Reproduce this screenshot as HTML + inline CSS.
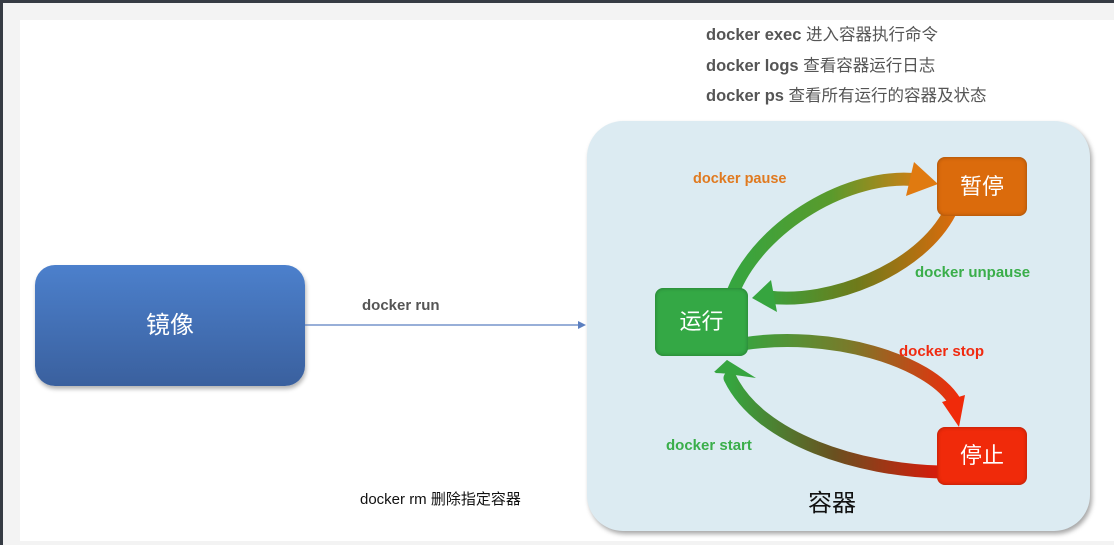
<!DOCTYPE html>
<html><head><meta charset="utf-8"><style>
body{margin:0;width:1114px;height:545px;background:#f3f3f3;position:relative;overflow:hidden;font-family:"Liberation Sans","Noto Sans CJK SC",sans-serif}
.top{position:absolute;left:0;top:0;width:1114px;height:3px;background:#363b43}
.left{position:absolute;left:0;top:0;width:3px;height:545px;background:#363b43}
.card{position:absolute;left:20px;top:20px;width:1094px;height:521px;background:#fff}
.t{position:absolute;white-space:nowrap}
</style></head><body>
<div class="top"></div><div class="left"></div><div class="card"></div>
<div class="t" style="left:706px;top:21px;font-size:16.5px;color:#555"><b>docker exec</b> 进入容器执行命令</div>
<div class="t" style="left:706px;top:52px;font-size:16.5px;color:#555"><b>docker logs</b> 查看容器运行日志</div>
<div class="t" style="left:706px;top:82px;font-size:16.5px;color:#555"><b>docker ps</b> 查看所有运行的容器及状态</div>
<div style="position:absolute;left:587px;top:121px;width:503px;height:410px;border-radius:36px;background:#dcebf2;box-shadow:2px 3px 5px rgba(0,0,0,.35)"></div>
<div style="position:absolute;left:35px;top:265px;width:270px;height:121px;border-radius:20px;background:linear-gradient(#4c80cc,#3a609e);box-shadow:1px 3px 4px rgba(0,0,0,.3);color:#fff;font-size:24px;text-align:center;line-height:121px">镜像</div>
<div class="t" style="left:362px;top:297px;font-size:15px;font-weight:bold;color:#555">docker run</div>
<div class="t" style="left:360px;top:488px;font-size:15px;color:#111">docker rm 删除指定容器</div>
<svg width="1114" height="545" style="position:absolute;left:0;top:0">
<defs>
<linearGradient id="gp" x1="733" y1="0" x2="930" y2="0" gradientUnits="userSpaceOnUse"><stop offset="0" stop-color="#36a53f"/><stop offset=".5" stop-color="#5a9a2c"/><stop offset="1" stop-color="#e07a10"/></linearGradient>
<linearGradient id="gu" x1="760" y1="0" x2="955" y2="0" gradientUnits="userSpaceOnUse"><stop offset="0" stop-color="#36a53f"/><stop offset=".5" stop-color="#6f7a1a"/><stop offset="1" stop-color="#db6b0c"/></linearGradient>
<linearGradient id="gs" x1="740" y1="0" x2="960" y2="0" gradientUnits="userSpaceOnUse"><stop offset="0" stop-color="#36a53f"/><stop offset=".5" stop-color="#7a7a2a"/><stop offset="1" stop-color="#f02a0a"/></linearGradient>
<linearGradient id="gt" x1="730" y1="0" x2="940" y2="0" gradientUnits="userSpaceOnUse"><stop offset="0" stop-color="#36a53f"/><stop offset=".5" stop-color="#6a5020"/><stop offset="1" stop-color="#d81a0a"/></linearGradient>
</defs>
<line x1="305" y1="325" x2="578" y2="325" stroke="#5b7fc0" stroke-width="1.2"/>
<polygon points="578,321 586,325 578,329" fill="#5b7fc0"/>
<g fill="none" stroke-width="13" stroke-linecap="round">
<path d="M733,292 C760,225 850,172 918,180" stroke="url(#gp)"/>
<path d="M950,212 C920,270 830,305 768,297" stroke="url(#gu)"/>
<path d="M742,344 C830,330 930,360 955,402" stroke="url(#gs)"/>
<path d="M940,472 C860,470 760,440 730,378" stroke="url(#gt)"/>
</g>
<polygon points="914,162 938,184 906,196" fill="#e07a10"/>
<polygon points="771,280 752,298 777,312" fill="#36a53f"/>
<polygon points="942,402 959,427 965,395" fill="#f02a0a"/>
<polygon points="714,372 727,360 756,378" fill="#36a53f"/>
<polygon points="715,373 727,360 740,374" fill="#36a53f"/>
</svg>
<div style="position:absolute;left:937px;top:157px;width:90px;height:59px;border-radius:8px;background:#db6b0c;color:#fff;font-size:22px;text-align:center;line-height:59px;box-shadow:inset 0 0 4px rgba(0,0,0,.3)">暂停</div>
<div style="position:absolute;left:655px;top:288px;width:93px;height:68px;border-radius:8px;background:#34a845;color:#fff;font-size:22px;text-align:center;line-height:68px;box-shadow:inset 0 0 4px rgba(0,0,0,.3)">运行</div>
<div style="position:absolute;left:937px;top:427px;width:90px;height:58px;border-radius:8px;background:#f02a0a;color:#fff;font-size:22px;text-align:center;line-height:58px;box-shadow:inset 0 0 4px rgba(0,0,0,.3)">停止</div>
<div class="t" style="left:693px;top:171px;font-size:14.5px;font-weight:bold;color:#e07a20">docker pause</div>
<div class="t" style="left:915px;top:264px;font-size:15px;font-weight:bold;color:#3aae4a">docker unpause</div>
<div class="t" style="left:899px;top:343px;font-size:15px;font-weight:bold;color:#f02a10">docker stop</div>
<div class="t" style="left:666px;top:437px;font-size:15px;font-weight:bold;color:#3aae4a">docker start</div>
<div class="t" style="left:808px;top:483px;font-size:24px;color:#111">容器</div>
</body></html>
